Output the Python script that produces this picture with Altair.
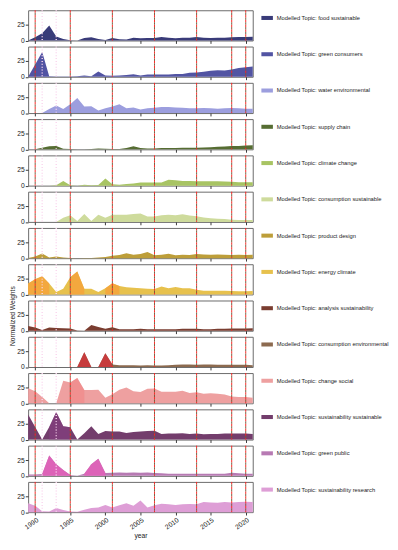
import altair as alt
import pandas as pd

years = list(range(1989, 2022))

topics = ["food sustainable", "green consumers", "water environmental", "supply chain",
          "climate change", "consumption sustainable", "product design", "energy climate",
          "analysis sustainability", "consumption environmental", "change social",
          "sustainability sustainable", "green public", "sustainability research"]

colors = ["#393b79", "#5254a3", "#9c9ede", "#566d32", "#a8c463", "#cedb9c", "#bd9e39",
          "#e7c14d", "#7a3d30", "#8c6a4f", "#eea0a0", "#733d6c", "#b77ab3", "#de9ed6"]

food_sustainable = [0, 5, 11.5, 24, 6.5, 2.5, 0.5, 0, 4, 5, 2.5, 1, 4, 2, 1.5, 4.5, 3.5, 4, 4, 5.5,
                    4.5, 3.5, 4.5, 4.5, 5.5, 4.5, 4, 4.5, 4.5, 5, 5.5, 5.5, 6]
green_consumers = [0, 19.5, 39.5, 1, 0.5, 0.5, 0.5, 1, 2, 1, 8.5, 2, 1.5, 2, 3, 4, 2, 3.5, 3.5, 3.5,
                   3.5, 4.5, 4.5, 6.5, 7, 8, 9.5, 10.5, 10, 11.5, 14, 15, 16.5]
water_environmental = [0, 0, 0, 6.5, 12, 6.5, 14, 24, 10.5, 11, 4, 7.5, 10.5, 14, 7.5, 9, 5.5, 7.5,
                       8.5, 9.5, 9.5, 9, 8.5, 7.5, 7.5, 8, 7.5, 7, 7.5, 8, 7.5, 7, 7]
supply_chain = [0, 0, 2.5, 5, 5.5, 1, 0.5, 0, 0, 0.5, 1.5, 1, 0.5, 0.5, 2, 5, 2, 1.5, 1.5, 2, 2, 2,
                2.5, 2.5, 2.5, 3, 3.5, 4, 4.5, 5.5, 5.5, 6, 6.5]
climate_change = [0, 0, 0, 0, 0.5, 7.5, 0.5, 0, 1.5, 0.5, 1, 11.5, 2, 1.5, 2.5, 3.5, 5, 5, 5, 5,
                  9.5, 8.5, 7.5, 7.5, 7, 7, 7, 7, 6.5, 6, 5.5, 5.5, 5.5]
consumption_sustainable = [0, 0, 0, 0, 0, 6.5, 10.5, 1.5, 12.5, 1.5, 11.5, 6.5, 11.5, 11.5, 11.5,
                           12.5, 13.5, 8.5, 8.5, 10.5, 11.5, 10.5, 12, 10, 9, 7, 6, 5, 4.5, 3.5,
                           3, 3, 3]
product_design = [0.5, 2.5, 7.5, 1, 2.5, 1, 0.5, 0, 0.5, 0.5, 1, 2, 4, 5, 8, 5.5, 6.5, 10, 4.5,
                  5.5, 7, 4.5, 5.5, 5, 6.5, 6, 5.5, 6, 5.5, 5, 5.5, 5, 5.5]
energy_climate = [17.5, 24, 29, 17.5, 4, 9, 27.5, 36.5, 9, 9, 4, 10, 18, 13.5, 11.5, 10.5, 10, 9,
                  8.5, 12.5, 10, 12, 10, 10, 7.5, 6, 6, 6, 6, 5.5, 5, 5, 5.5]
analysis_sustainability = [7.5, 5, 1, 5, 4.5, 4, 3.5, 0.5, 0, 9, 6, 3, 5.5, 2.5, 2.5, 2.5, 3, 2.5,
                           2.5, 2.5, 2.5, 2.5, 3, 3, 3, 2.5, 2.5, 3, 3, 3.5, 3.5, 3.5, 4]
consumption_environmental = [0, 0, 0, 0, 0, 0, 0, 0, 23.5, 0, 0, 22, 4, 3, 3, 3, 2.5, 3, 2.5, 2.5,
                             3, 3.5, 4, 4, 3.5, 4, 4, 3.5, 3.5, 3.5, 3.5, 3.5, 3]
change_social = [24, 19, 10, 0, 0, 36, 33, 40, 21, 21, 21.5, 9, 14.5, 21.5, 25, 19, 18, 23, 23.5,
                 18.5, 18.5, 18.5, 20, 16.5, 17.5, 15, 16, 15, 14, 11, 10, 10, 9]
sustainability_sustainable = [40, 20, 0, 20, 44, 21, 19.5, 0, 10, 21, 9, 13.5, 13, 13, 10.5, 12,
                              13, 13.5, 14, 9, 9.5, 9.5, 10, 9, 9.5, 8.5, 9, 9, 9.5, 9.5, 9.5,
                              9.5, 9]
green_public = [2, 2, 3, 32.5, 18.5, 9.5, 1.5, 0, 3.5, 18.5, 27, 4.5, 5, 5.5, 5, 5.5, 5, 5.5, 4.5,
                4, 3.5, 3.5, 3.5, 3.5, 3.5, 3.5, 3.5, 3.5, 3.5, 5, 4, 3.5, 3.5]
sustainability_research = [14, 10, 1.5, 1, 6.5, 3.5, 1, 0.5, 4, 6.5, 7.5, 11.5, 7.5, 11, 14, 10,
                           18.5, 7.5, 11, 13.5, 12.5, 11.5, 12.5, 13, 12.5, 16, 15.5, 15, 16, 15.5,
                           16, 16.5, 16]

series = [food_sustainable, green_consumers, water_environmental, supply_chain, climate_change,
          consumption_sustainable, product_design, energy_climate, analysis_sustainability,
          consumption_environmental, change_social, sustainability_sustainable, green_public,
          sustainability_research]

event_years = [1990, 1995, 2001, 2007, 2013, 2018, 2020]
faint_years = [1991, 1993]
tick_years = [1990, 1995, 2000, 2005, 2010, 2015, 2020]

overlay_topic = ["energy climate", "energy climate", "energy climate",
                 "consumption environmental", "consumption environmental",
                 "change social", "sustainability sustainable",
                 "green public", "green public"]
overlay_start = [1989, 1995, 2000, 1996, 1999, 1995, 1992, 1991, 1997]
overlay_end = [1992, 1997, 2002, 1998, 2001, 1997, 1995, 1995, 2000]
overlay_color = ["#f5a33c", "#f5a33c", "#f5a33c", "#d0343a", "#d0343a", "#f28080", "#8b3f87",
                 "#e45fb8", "#e45fb8"]
overlay_opacity = [0.85, 0.85, 0.85, 0.85, 0.85, 0.5, 0.5, 0.85, 0.85]

W, H, SP = 234, 31.5, 5.8
FONT = "Liberation Sans"

ev_df = pd.DataFrame({"year": event_years})
faint_df = pd.DataFrame({"year": faint_years})

panels = []
n = len(topics)
for i, (t, c, vals) in enumerate(zip(topics, colors, series)):
    label = "Modelled Topic: " + t
    df = pd.DataFrame({"year": years, "weight": vals, "topic": label})
    last = i == n - 1
    xaxis = alt.Axis(values=tick_years, format="d",
                     labels=last, title="year" if last else None, labelAngle=325,
                     labelAlign="right", labelBaseline="top", labelPadding=1,
                     labelOverlap=False, labelBound=False, labelFlush=False,
                     titlePadding=2, tickSize=3, domain=False, grid=False)
    yaxis = alt.Axis(values=[0, 25], title="Normalized Weights" if i == 8 else None,
                     tickSize=3, labelPadding=1, titlePadding=1, domain=False, grid=False)
    xs = alt.Scale(domain=[1989, 2021], nice=False, zero=False)
    ys = alt.Scale(domain=[0, 48], nice=False)
    X = alt.X("year:Q", scale=xs, axis=xaxis)
    Y = alt.Y("weight:Q", scale=ys, axis=yaxis)
    area = alt.Chart(df).mark_area(opacity=1).encode(
        x=X, y=Y,
        color=alt.Color("topic:N", scale=alt.Scale(domain=[label], range=[c]),
                        legend=alt.Legend(title=None, orient="none", legendX=243, legendY=2,
                                          padding=0, symbolType="M-1,-0.35H1V0.35H-1Z",
                                          symbolSize=144, symbolStrokeWidth=0,
                                          symbolOpacity=1, labelFontSize=6,
                                          labelFont=FONT, labelColor="#222",
                                          labelOffset=4)),
    )
    layers = [area]
    for ot, s, e, oc, oo in zip(overlay_topic, overlay_start, overlay_end, overlay_color,
                                overlay_opacity):
        if ot == t:
            sub = df[(df["year"] >= s) & (df["year"] <= e)]
            layers.append(alt.Chart(sub).mark_area(color=oc, opacity=oo).encode(x=X, y=Y))
    layers.append(alt.Chart(faint_df).mark_rule(color="#fad6ee", strokeDash=[1, 2],
                                                strokeWidth=1.5).encode(x=X))
    layers.append(alt.Chart(ev_df).mark_rule(color="#ff2020", strokeDash=[2.5, 2.5],
                                             strokeWidth=1).encode(x=X))
    layers.append(alt.Chart(ev_df).mark_rule(color="#7a5a3a", strokeDash=[2.5, 2.5],
                                             strokeDashOffset=2.5,
                                             strokeWidth=1).encode(x=X))
    panels.append(alt.layer(*layers).properties(width=W, height=H))

chart = alt.vconcat(*panels, spacing=SP, bounds="flush").resolve_scale(
    x="independent", y="independent", color="independent"
).resolve_axis(x="independent", y="independent").resolve_legend(color="independent").properties(
    padding={"top": -11, "left": 0, "right": 0, "bottom": 0}
).configure_view(stroke="#666", strokeWidth=1).configure_axis(
    labelFont=FONT, labelFontSize=7, labelColor="#222", tickColor="#333",
    titleFont=FONT, titleFontSize=7, titleFontWeight="normal", titleColor="#222"
)

chart.save("out.html", embed_options={"renderer": "svg", "actions": False})
